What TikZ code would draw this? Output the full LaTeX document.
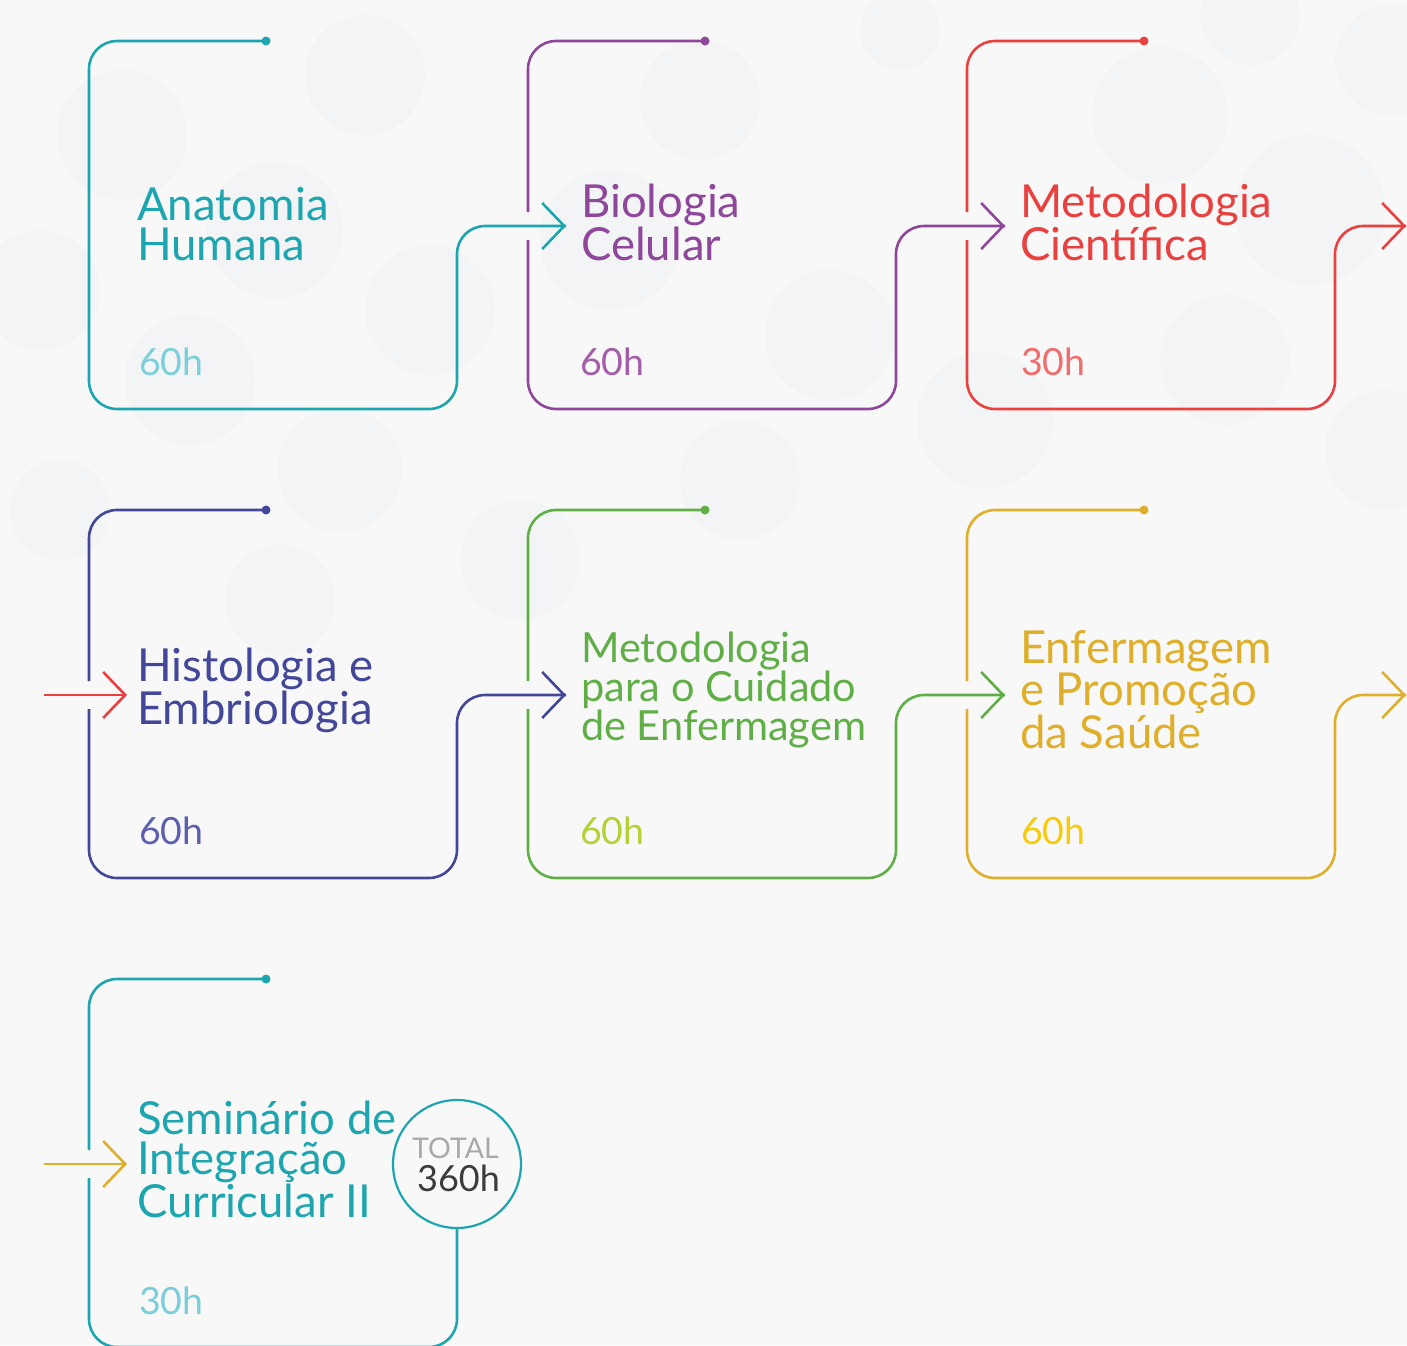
\documentclass[tikz,border=0pt]{standalone}
\usepackage{fontspec}
\setmainfont{Lato}
\usetikzlibrary{arrows.meta}
\definecolor{bgc}{HTML}{F8F8F8}
\definecolor{blobc}{HTML}{F3F4F5}
\definecolor{cteal}{HTML}{1DA6B0}
\definecolor{ctealL}{HTML}{7ACFDA}
\definecolor{cpurp}{HTML}{8E479B}
\definecolor{cpurpL}{HTML}{A35DAA}
\definecolor{cred}{HTML}{E8413F}
\definecolor{credL}{HTML}{EF6D6D}
\definecolor{cind}{HTML}{43479A}
\definecolor{cindL}{HTML}{5B60AE}
\definecolor{cgrn}{HTML}{60AF46}
\definecolor{cgrnL}{HTML}{B3D234}
\definecolor{cgold}{HTML}{DFAF2B}
\definecolor{cgoldL}{HTML}{F7CA0A}
\definecolor{ctotal}{HTML}{A7A9AC}
\definecolor{cdark}{HTML}{3B3B3B}
\tikzset{
  cardline/.style={line width=2.6pt, rounded corners=28pt},
  tipA/.style={-{Straight Barb[length=22pt,width=46pt]}},
  titleA/.style={anchor=base west, inner sep=0pt, align=left, font=\fontsize{45.5}{40}\selectfont},
  titleC/.style={anchor=base west, inner sep=0pt, align=left, font=\fontsize{41.5}{37.5}\selectfont},
  hours/.style={anchor=base west, inner sep=0pt, font=\fontsize{37.5}{37.5}\selectfont},
}
\newcommand{\mkcard}[4]{%
  \coordinate (#1dot) at (#2+177,#3);
  \coordinate (#1gt) at (#2,#3+171);
  \coordinate (#1gb) at (#2,#3+199);
  \coordinate (#1br) at (#2+368,#3+368);
  \fill[#4] (#1dot) circle (4.5pt);
}
\begin{document}
\begin{tikzpicture}[x=1pt,y=-1pt]
\useasboundingbox (0,0) rectangle (1407,1345);
\fill[bgc] (0,0) rectangle (1407,1345);
\begin{scope}
\clip (0,0) rectangle (1407,1345);
\foreach \cx/\cy/\r in {122/135/65,365/75/60,275/230/68,40/290/60,190/380/65,430/310/65,340/470/62,610/240/70,700/100/60,830/335/65,985/420/68,1160/115/68,1225/360/65,1310/210/75,1385/450/60,1250/15/50,740/480/60,520/560/60,280/600/55,1390/60/55,900/30/40,60/510/50}
  \fill[blobc] (\cx,\cy) circle (\r pt);
\end{scope}

% ---------- row 1 ----------
\mkcard{a}{89}{41}{cteal}
\coordinate (atip) at (566,226);
\draw[cardline,cteal] (adot) -| (agt) -- (agb) |- (abr) |- (atip);
\draw[line width=2.6pt,cteal,tipA] ([xshift=-2pt]atip) -- (atip);

\mkcard{b}{528}{41}{cpurp}
\coordinate (btip) at (1005,226);
\draw[cardline,cpurp] (bdot) -| (bgt);
\draw[cardline,cpurp] (bgb) |- (bbr) |- (btip);
\draw[line width=2.6pt,cpurp,tipA] ([xshift=-2pt]btip) -- (btip);

\mkcard{c}{967}{41}{cred}
\coordinate (ctip) at (1406,226);
\draw[cardline,cred] (cdot) -| (cgt);
\draw[cardline,cred] (cgb) |- (cbr) |- (ctip);
\draw[line width=2.6pt,cred,tipA] ([xshift=-2pt]ctip) -- (ctip);

% ---------- row 2 ----------
\coordinate (din0) at (44,695);
\coordinate (din) at (127,695);
\draw[line width=2.6pt,cred,tipA] (din0) -- (din);

\mkcard{d}{89}{510}{cind}
\coordinate (dtip) at (566,695);
\draw[cardline,cind] (ddot) -| (dgt);
\draw[cardline,cind] (dgb) |- (dbr) |- (dtip);
\draw[line width=2.6pt,cind,tipA] ([xshift=-2pt]dtip) -- (dtip);

\mkcard{e}{528}{510}{cgrn}
\coordinate (etip) at (1005,695);
\draw[cardline,cgrn] (edot) -| (egt);
\draw[cardline,cgrn] (egb) |- (ebr) |- (etip);
\draw[line width=2.6pt,cgrn,tipA] ([xshift=-2pt]etip) -- (etip);

\mkcard{f}{967}{510}{cgold}
\coordinate (ftip) at (1406,695);
\draw[cardline,cgold] (fdot) -| (fgt);
\draw[cardline,cgold] (fgb) |- (fbr) |- (ftip);
\draw[line width=2.6pt,cgold,tipA] ([xshift=-2pt]ftip) -- (ftip);

% ---------- row 3 ----------
\coordinate (gin0) at (44,1164);
\coordinate (gin) at (127,1164);
\draw[line width=2.6pt,cgold,tipA] (gin0) -- (gin);

\mkcard{g}{89}{979}{cteal}
\node[circle, draw=cteal, line width=2.2pt, fill=bgc, minimum size=128pt, inner sep=0pt] (total) at (457,1164) {};
\draw[cardline,cteal] (gdot) -| (ggt);
\draw[cardline,cteal] (ggb) |- (gbr) -- (total.south);

% ---------- texts (anchored at baseline of last line) ----------
\node[titleA,text=cteal] (ta) at (137,260) {Anatomia\\Humana};
\node[hours,text=ctealL] (ha) at (139,375) {60h};
\node[titleA,text=cpurp] (tb) at (581,260) {Biologia\\Celular};
\node[hours,text=cpurpL] (hb) at (580,375) {60h};
\node[titleA,text=cred] (tc) at (1020,260) {Metodologia\\Científica};
\node[hours,text=credL] (hc) at (1021,375) {30h};

\node[titleA,text=cind] (td) at (137,724) {Histologia e\\Embriologia};
\node[hours,text=cindL] (hd) at (139,844) {60h};
\node[titleC,text=cgrn] (te) at (581,740) {Metodologia\\para o Cuidado\\de Enfermagem};
\node[hours,text=cgrnL] (he) at (580,844) {60h};
\node[titleA,text=cgold] (tf) at (1020,748) {Enfermagem\\e Promoção\\da Saúde};
\node[hours,text=cgoldL] (hf) at (1021,844) {60h};

\node[titleA,text=cteal] (tg) at (137,1217) {Seminário de\\Integração\\Curricular II};
\node[hours,text=ctealL] (hg) at (139,1314) {30h};
\node[anchor=base west, inner sep=0pt, text=ctotal, font=\fontsize{28.5}{28.5}\selectfont] (tt) at (412,1158) {TOTAL};
\node[anchor=base west, inner sep=0pt, text=cdark, font=\fontsize{36}{36}\selectfont] (tn) at (417,1191) {360h};
\end{tikzpicture}
\end{document}
